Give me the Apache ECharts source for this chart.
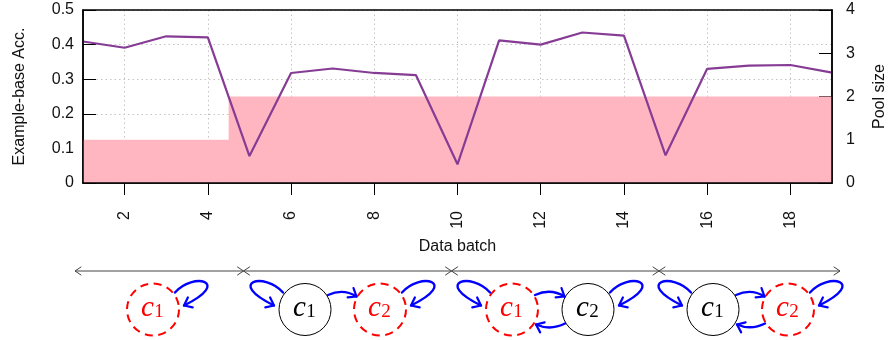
<!DOCTYPE html>
<html>
<head>
<meta charset="utf-8">
<script src="https://cdn.jsdelivr.net/npm/echarts@6/dist/echarts.min.js"></script>
<style>
  html, body { margin: 0; padding: 0; background: #fff; }
  #chart { width: 889px; height: 340px; }
</style>
</head>
<body>
<div id="chart"></div>
<script>
// Batch index along the x axis
const batches = ['1', '2', '3', '4', '5', '6', '7', '8', '9', '10',
                 '11', '12', '13', '14', '15', '16', '17', '18', '19'];
// Example-based accuracy per batch (left axis)
const accuracy = [0.409, 0.391, 0.424, 0.421, 0.078, 0.318, 0.331, 0.318, 0.312, 0.054,
                  0.412, 0.400, 0.435, 0.426, 0.080, 0.330, 0.339, 0.341, 0.319];
// Number of classifiers in the pool per batch (right axis)
const poolSize = [1, 1, 1, 1, 2, 2, 2, 2, 2, 2, 2, 2, 2, 2, 2, 2, 2, 2, 2];

const FONT = '"Liberation Sans", Arial, sans-serif';
const SERIF = '"Liberation Serif", "Times New Roman", serif';
const INK = '#111';
const GRID = { left: 83, top: 10, right: 57, bottom: 157 };
const W = 889, H = 340;

const evenBatch = (idx, val) => Number(val) % 2 === 0;

// ---------- schematic of the classifier pool below the chart ----------
const BLUE = '#0000ff';
const RED = '#ff0000';
const CY = 309.5;   // centre line of the circles
const R = 26;
const LINE_Y = 271; // timeline

const g = [];

function chevron(tipX, tipY, fromX, fromY, len, half, color, width, z) {
  const dx = tipX - fromX, dy = tipY - fromY;
  const d = Math.hypot(dx, dy) || 1;
  const ux = dx / d, uy = dy / d;          // direction of travel
  const px = -uy, py = ux;                 // perpendicular
  const bx = tipX - ux * len, by = tipY - uy * len;
  g.push({
    type: 'polyline', silent: true, z: z || 10,
    shape: { points: [[bx + px * half, by + py * half], [tipX, tipY], [bx - px * half, by - py * half]] },
    style: { stroke: color, lineWidth: width, fill: 'none', lineCap: 'round', lineJoin: 'round' }
  });
}

function curve(p0, c1, c2, p3) {
  g.push({
    type: 'bezierCurve', silent: true, z: 10,
    shape: { x1: p0[0], y1: p0[1], cpx1: c1[0], cpy1: c1[1], cpx2: c2[0], cpy2: c2[1], x2: p3[0], y2: p3[1] },
    style: { stroke: BLUE, lineWidth: 2.4, fill: 'none', lineCap: 'round' }
  });
  chevron(p3[0], p3[1], c2[0], c2[1], 7, 5.5, BLUE, 2.2);
}

// self loop on one side of a classifier (side = +1 right, -1 left)
function selfLoop(cx, side) {
  const s = side;
  curve([cx + s * 22, CY - 17], [cx + s * 40, CY - 38], [cx + s * 80, CY - 28], [cx + s * 31, CY - 4]);
}

// arrow across the top from left circle to right circle
function topArrow(cxL, cxR) {
  curve([cxL + 23, CY - 14.5], [cxL + 33, CY - 19], [cxR - 33, CY - 19], [cxR - 23.5, CY - 13]);
}
// arrow across the bottom from right circle to left circle
function bottomArrow(cxL, cxR) {
  curve([cxR - 23, CY + 14], [cxR - 33, CY + 19], [cxL + 33, CY + 19], [cxL + 24, CY + 15]);
}

function classifier(cx, sub, inactive) {
  const color = inactive ? RED : '#000';
  g.push({
    type: 'circle', silent: true, z: 10,
    shape: { cx: cx, cy: CY, r: R },
    style: inactive
      ? { fill: 'none', stroke: RED, lineWidth: 2, lineDash: [8, 5.6] }
      : { fill: 'none', stroke: '#000', lineWidth: 1 }
  });
  g.push({
    type: 'text', silent: true, z: 11,
    style: { x: cx - 5.5, y: CY - 1.5, text: 'c', fill: color,
             font: 'italic 29px ' + SERIF, textAlign: 'center', textVerticalAlign: 'middle' }
  });
  g.push({
    type: 'text', silent: true, z: 11,
    style: { x: cx + 6, y: CY + 3, text: sub, fill: color,
             font: '19px ' + SERIF, textAlign: 'center', textVerticalAlign: 'middle' }
  });
}

// timeline spans, one per pool configuration
const spans = [[75, 243.5], [243.5, 451.5], [451.5, 659], [659, 840]];
spans.forEach(([a, b]) => {
  g.push({
    type: 'line', silent: true, z: 10,
    shape: { x1: a, y1: LINE_Y, x2: b, y2: LINE_Y },
    style: { stroke: '#444', lineWidth: 1 }
  });
  chevron(a, LINE_Y, a + 10, LINE_Y, 6, 4, '#444', 1);
  chevron(b, LINE_Y, b - 10, LINE_Y, 6, 4, '#444', 1);
});

// span 1: only c1, inactive
classifier(153, '1', true);
selfLoop(153, 1);
// span 2: c1 active, c2 inactive
classifier(305, '1', false);
classifier(380, '2', true);
selfLoop(305, -1);
selfLoop(380, 1);
topArrow(305, 380);
// span 3: c1 inactive, c2 active
classifier(512, '1', true);
classifier(588, '2', false);
selfLoop(512, -1);
selfLoop(588, 1);
topArrow(512, 588);
bottomArrow(512, 588);
// span 4: c1 active, c2 inactive
classifier(713, '1', false);
classifier(788, '2', true);
selfLoop(713, -1);
selfLoop(788, 1);
topArrow(713, 788);
bottomArrow(713, 788);

// box round the plotting region
g.push({
  type: 'rect', silent: true, z: 100,
  shape: { x: GRID.left, y: GRID.top, width: W - GRID.left - GRID.right, height: H - GRID.top - GRID.bottom },
  style: { fill: 'none', stroke: '#000', lineWidth: 1.5 }
});

const dotted = { color: '#c4c4c4', type: [1.5, 3], width: 1 };

const option = {
  animation: false,
  backgroundColor: '#fff',
  textStyle: { fontFamily: FONT },
  grid: { left: GRID.left, right: GRID.right, top: GRID.top, bottom: GRID.bottom,
          containLabel: false, outerBoundsMode: 'none' },
  xAxis: {
    type: 'category',
    data: batches,
    boundaryGap: false,
    name: 'Data batch',
    nameLocation: 'middle',
    nameGap: 56,
    nameTextStyle: { fontSize: 16, color: INK, fontFamily: FONT },
    axisLine: { show: true, lineStyle: { color: '#000', width: 1.5 } },
    axisTick: { show: true, inside: false, length: 12, interval: evenBatch, lineStyle: { color: '#000', width: 1 } },
    axisLabel: { interval: evenBatch, rotate: 90, margin: 28, fontSize: 16, color: INK, fontFamily: FONT },
    splitLine: { show: true, interval: evenBatch, lineStyle: dotted }
  },
  yAxis: [
    {
      type: 'value',
      position: 'left',
      min: 0, max: 0.5, interval: 0.1,
      name: 'Example-base Acc.',
      nameLocation: 'middle',
      nameGap: 55,
      nameRotate: 90,
      nameTextStyle: { fontSize: 16, color: INK, fontFamily: FONT },
      axisLine: { show: true, lineStyle: { color: '#000', width: 1.5 } },
      axisTick: { show: true, inside: true, length: 13, lineStyle: { color: '#000', width: 1 } },
      axisLabel: { margin: 9, fontSize: 16, color: INK, fontFamily: FONT,
                   formatter: v => (v === 0 ? '0' : v.toFixed(1)) },
      splitLine: { show: true, lineStyle: dotted }
    },
    {
      type: 'value',
      position: 'right',
      min: 0, max: 4, interval: 1,
      name: 'Pool size',
      nameLocation: 'middle',
      nameGap: 40,
      nameRotate: 90,
      nameTextStyle: { fontSize: 16, color: INK, fontFamily: FONT },
      axisLine: { show: true, lineStyle: { color: '#000', width: 1.5 } },
      axisTick: { show: true, inside: true, length: 13, lineStyle: { color: '#000', width: 1 } },
      axisLabel: { margin: 14, fontSize: 16, color: INK, fontFamily: FONT },
      splitLine: { show: false }
    }
  ],
  series: [
    {
      name: 'Pool size',
      type: 'line',
      yAxisIndex: 1,
      data: poolSize,
      step: 'middle',
      symbol: 'none',
      lineStyle: { width: 0, opacity: 0 },
      areaStyle: { color: '#ffb6c1', opacity: 1 },
      z: 1
    },
    {
      name: 'Example-base Acc.',
      type: 'line',
      yAxisIndex: 0,
      data: accuracy,
      symbol: 'none',
      lineStyle: { color: '#863c94', width: 2.2 },
      z: 5
    }
  ],
  graphic: { elements: g }
};

const chart = echarts.init(document.getElementById('chart'), null, { renderer: 'canvas' });
chart.setOption(option);
</script>
</body>
</html>
